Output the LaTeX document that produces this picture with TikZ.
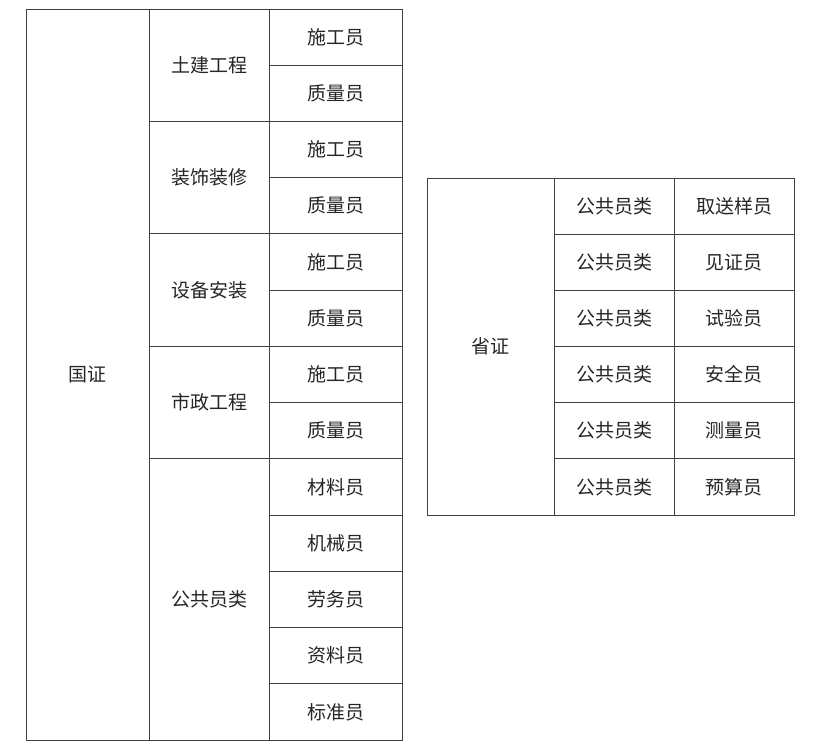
\documentclass[tikz,border=0pt]{standalone}
\usepackage{fontspec}
\setmainfont{Noto Sans CJK SC}
\begin{document}
\begin{tikzpicture}[x=1pt,y=-1pt,
  cell/.style={draw=black!75,line width=0.9pt},
  lab/.style={font=\fontsize{19}{22}\selectfont,text=black!85}]
\useasboundingbox[fill=white] (0,0) rectangle (816,753);
\def\h{56.23}
% left table
\foreach \i in {0,...,12}{
  \draw[cell] (269,{9+\i*\h}) rectangle (402,{9+(\i+1)*\h});
}
\foreach \i in {0,2,4,6}{
  \draw[cell] (149,{9+\i*\h}) rectangle (269,{9+(\i+2)*\h});
}
\draw[cell] (149,{9+8*\h}) rectangle (269,740);
\draw[cell] (26,9) rectangle (149,740);
\node[lab] (gz) at (87.5,374.5) {国证};
\node[lab] (g1) at (209,{9+1*\h}) {土建工程};
\node[lab] (g2) at (209,{9+3*\h}) {装饰装修};
\node[lab] (g3) at (209,{9+5*\h}) {设备安装};
\node[lab] (g4) at (209,{9+7*\h}) {市政工程};
\node[lab] (g5) at (209,{9+10.5*\h}) {公共员类};
\foreach \t [count=\i from 0] in {施工员,质量员,施工员,质量员,施工员,质量员,施工员,质量员,材料员,机械员,劳务员,资料员,标准员}{
  \node[lab] (r\i) at (335.5,{9+(\i+0.5)*\h}) {\t};
}
% right table
\draw[cell] (427,178) rectangle (554,515);
\node[lab] (sz) at (490.5,346.5) {省证};
\foreach \t [count=\i from 0] in {取送样员,见证员,试验员,安全员,测量员,预算员}{
  \draw[cell] (554,{178+\i*56.17}) rectangle (674,{178+(\i+1)*56.17});
  \draw[cell] (674,{178+\i*56.17}) rectangle (794,{178+(\i+1)*56.17});
  \node[lab] (p\i) at (614,{178+(\i+0.5)*56.17}) {公共员类};
  \node[lab] (q\i) at (734,{178+(\i+0.5)*56.17}) {\t};
}
\end{tikzpicture}
\end{document}
